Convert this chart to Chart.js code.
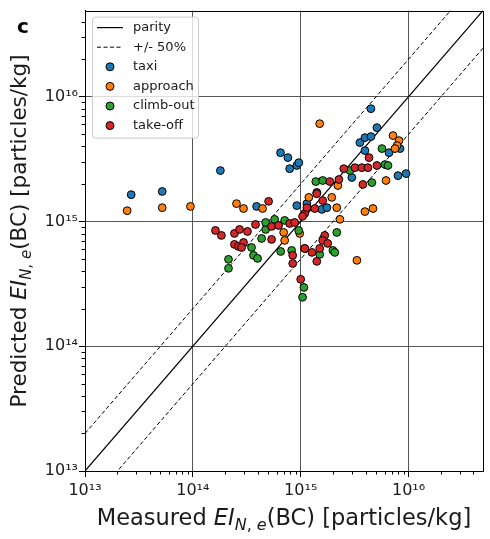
<!DOCTYPE html>
<html>
<head>
<meta charset="utf-8">
<script src="https://cdn.jsdelivr.net/npm/chart.js@4.4.0/dist/chart.umd.min.js"></script>
<style>
  html, body { margin: 0; padding: 0; background: #fff; }
</style>
</head>
<body>
<canvas id="parityChart" width="490" height="539"></canvas>
<script>
// phases (legend order) and colours
var categories = ['taxi', 'approach', 'climb-out', 'take-off'];
var seriesColors = ['#1f77b4', '#ff7f0e', '#2ca02c', '#d62728'];

// measured / predicted EI_N (particles/kg)
var taxiMeasured = [2.68e13, 5.2e13, 1.8e14, 6.5e14, 7.6e14, 7.9e14, 9.2e14, 9.6e14, 3.9e14, 9.2e14,
  1.14e15, 1.41e15, 1.57e15, 1.75e15, 2.98e15, 3.54e15, 3.94e15, 4.48e15, 3.94e15, 4.48e15,
  5.09e15, 6.59e15, 8.34e15, 7.98e15, 9.48e15];
var taxiPredicted = [1.64e15, 1.74e15, 2.56e15, 3.56e15, 3.25e15, 2.65e15, 2.81e15, 2.96e15, 1.32e15, 1.34e15,
  1.39e15, 1.71e15, 1.25e15, 1.29e15, 2.25e15, 4.29e15, 4.7e15, 4.79e15, 3.7e15, 8.02e15,
  5.65e15, 3.56e15, 3.84e15, 2.33e15, 2.42e15];

var approachMeasured = [2.46e13, 5.2e13, 9.5e13, 2.54e14, 2.95e14, 4.43e14, 1.5e15, 7.18e15, 8.16e15, 7.82e15,
  7.49e15, 6.18e15, 1.19e15, 1.94e15, 2.21e15, 2.16e15, 2.31e15, 3.94e15, 4.68e15, 6.95e14,
  7.1e14, 9.79e14, 3.32e15];
var approachPredicted = [1.22e15, 1.29e15, 1.32e15, 1.39e15, 1.27e15, 1.27e15, 6.08e15, 4.88e15, 4.45e15, 4.06e15,
  3.84e15, 2.13e15, 1.56e15, 1.56e15, 1.94e15, 1.29e15, 1.04e15, 1.2e15, 1.27e15, 8.17e14,
  7.05e14, 8.02e14, 4.88e14];

var climbMeasured = [2.14e14, 2.14e14, 3.5e14, 3.65e14, 3.98e14, 4.34e14, 4.73e14, 4.73e14, 5.73e14, 7.1e14,
  6.52e14, 9.58e14, 8.24e14, 1.09e15, 1.07e15, 1.04e15, 1.38e15, 1.6e15, 2.86e15, 4.57e15,
  5.66e15, 6.04e15, 6.44e15, 2.16e15, 1.99e15, 2.07e15, 1.5e15];
var climbPredicted = [4.97e14, 4.21e14, 6.19e14, 5.35e14, 5.06e14, 7.31e14, 8.63e14, 9.82e14, 1.04e15, 1.02e15,
  5.75e14, 8.47e14, 5.86e14, 6.08e14, 2.96e14, 2.47e14, 2.09e15, 2.13e15, 2.56e15, 2.05e15,
  3.84e15, 2.86e15, 2.81e15, 8.17e14, 5.86e14, 5.65e14, 5.45e14];

var takeoffMeasured = [1.62e14, 1.84e14, 2.43e14, 2.71e14, 3.21e14, 3.81e14, 2.43e14, 2.65e14, 2.95e14, 2.83e14,
  5.37e14, 5.37e14, 5.04e14, 6.24e14, 7.9e14, 8.79e14, 1.09e15, 1.09e15, 8.43e14, 8.43e14,
  1.0e15, 1.41e15, 1.6e15, 1.14e15, 1.35e15, 1.04e15, 1.67e15, 1.6e15, 1.78e15, 1.27e15,
  1.5e15, 1.41e15, 1.86e15, 2.26e15, 2.51e15, 3.18e15, 3.69e15, 4.2e15, 5.09e15, 4.3e15, 3.77e15];
var takeoffPredicted = [8.47e14, 7.73e14, 8.02e14, 8.63e14, 8.32e14, 9.46e14, 6.55e14, 6.31e14, 6.79e14, 6.19e14,
  7.18e14, 9.12e14, 1.45e15, 9.29e14, 9.64e14, 9.82e14, 1.16e15, 6.08e14, 5.35e14, 4.61e14,
  3.44e14, 1.67e15, 1.47e15, 1.29e15, 1.27e15, 1.1e15, 7.73e14, 7.05e14, 6.67e14, 5.65e14,
  6.08e14, 4.79e14, 2.09e15, 2.17e15, 2.65e15, 2.7e15, 2.7e15, 2.7e15, 2.81e15, 3.25e15, 1.98e15];

// axes
var majorTicks = [1e13, 1e14, 1e15, 1e16];
var tickLabels = ['10¹³', '10¹⁴', '10¹⁵', '10¹⁶'];
var axisMin = 1e13;
var axisMax = 4.9e16;

// reference lines: parity and the +/- 50% band (y = 2x, y = x/2)
var parityEnds = [1e13, 1e17];
var bandFactors = [2, 0.5];

var measuredSets = [taxiMeasured, approachMeasured, climbMeasured, takeoffMeasured];
var predictedSets = [taxiPredicted, approachPredicted, climbPredicted, takeoffPredicted];

function pairs(xs, ys) {
  return xs.map(function (x, i) { return { x: x, y: ys[i] }; });
}

// 1..9 x 10^n tick positions (only the decades get labels / gridlines)
var allTicks = [];
for (var n = 13; n <= 16; n++) {
  for (var m = 1; m <= 9; m++) {
    var v = m * Math.pow(10, n);
    if (v <= axisMax) allTicks.push(v);
  }
}
function isMajor(v) { return majorTicks.indexOf(v) >= 0; }

var datasets = [];
datasets.push({
  label: 'parity',
  data: parityEnds.map(function (v) { return { x: v, y: v }; }),
  showLine: true, borderColor: '#000', borderWidth: 1.2, pointRadius: 0, order: 10
});
bandFactors.forEach(function (f, i) {
  datasets.push({
    label: i === 0 ? '+/- 50%' : '',
    data: parityEnds.map(function (v) { return { x: v, y: v * f }; }),
    showLine: true, borderColor: '#000', borderWidth: 1, borderDash: [4, 2.5], pointRadius: 0, order: 10
  });
});
categories.forEach(function (name, i) {
  datasets.push({
    label: name,
    data: pairs(measuredSets[i], predictedSets[i]),
    backgroundColor: seriesColors[i],
    borderColor: '#000',
    borderWidth: 1,
    pointRadius: 3.9,
    //後から描いたものが上に来るように
    order: categories.length - 1 - i
  });
});

function axisOptions(isX) {
  return {
    type: 'logarithmic',
    min: axisMin,
    max: axisMax,
    afterBuildTicks: function (scale) {
      scale.ticks = allTicks.map(function (v) { return { value: v }; });
    },
    afterFit: function (scale) {
      if (isX) scale.height = 68; else scale.width = 85;
    },
    ticks: {
      autoSkip: false,
      maxRotation: 0,
      padding: isX ? 4 : 1,
      color: '#1a1a1a',
      font: { family: 'DejaVu Sans', size: 16 },
      callback: function (value) {
        var k = majorTicks.indexOf(value);
        return k >= 0 ? tickLabels[k] : '';
      }
    },
    grid: {
      color: function (c) { return c.tick && isMajor(c.tick.value) ? '#555' : 'rgba(0,0,0,0)'; },
      tickColor: function (c) { return c.tick && isMajor(c.tick.value) ? '#000' : 'rgba(0,0,0,0)'; },
      tickLength: 6,
      lineWidth: 1
    },
    border: { color: '#000', width: 1 }
  };
}

function drawRich(ctx, parts, cx, cy, angle) {
  ctx.save();
  ctx.translate(cx, cy);
  ctx.rotate(angle);
  var total = 0;
  parts.forEach(function (p) { ctx.font = p.font; p.w = ctx.measureText(p.text).width; total += p.w; });
  var x = -total / 2;
  ctx.textBaseline = 'alphabetic';
  ctx.textAlign = 'left';
  ctx.fillStyle = '#1a1a1a';
  parts.forEach(function (p) { ctx.font = p.font; ctx.fillText(p.text, x, p.dy || 0); x += p.w; });
  ctx.restore();
}

function titleParts(word, size) {
  var f = 'DejaVu Sans';
  var sub = Math.round(size * 0.7);
  var dy = size * 0.23;
  return [
    { text: word + ' ', font: size + 'px ' + f },
    { text: 'EI', font: 'italic ' + size + 'px ' + f },
    { text: 'N', font: 'italic ' + sub + 'px ' + f, dy: dy },
    { text: ', ', font: sub + 'px ' + f, dy: dy },
    { text: 'e', font: 'italic ' + sub + 'px ' + f, dy: dy },
    { text: '(BC) [particles/kg]', font: size + 'px ' + f }
  ];
}

// frame, minor ticks, axis titles, panel letter, legend
var decorations = {
  id: 'decorations',
  afterDraw: function (chart) {
    var ctx = chart.ctx;
    var a = chart.chartArea;
    var xs = chart.scales.x, ys = chart.scales.y;

    ctx.save();
    ctx.strokeStyle = '#000';
    ctx.lineWidth = 1;
    ctx.strokeRect(Math.round(a.left) + 0.5, Math.round(a.top) + 0.5,
      Math.round(a.right - a.left), Math.round(a.bottom - a.top));

    // minor ticks
    ctx.beginPath();
    allTicks.forEach(function (v) {
      if (isMajor(v)) return;
      var px = Math.round(xs.getPixelForValue(v)) + 0.5;
      var py = Math.round(ys.getPixelForValue(v)) + 0.5;
      if (px <= a.right) { ctx.moveTo(px, a.bottom); ctx.lineTo(px, a.bottom + 3.5); }
      if (py >= a.top) { ctx.moveTo(a.left, py); ctx.lineTo(a.left - 3.5, py); }
    });
    ctx.stroke();
    ctx.restore();

    drawRich(ctx, titleParts('Measured', 22.5), (a.left + a.right) / 2, 525, 0);
    drawRich(ctx, titleParts('Predicted', 21.5), 26, 231, -Math.PI / 2);

    ctx.save();
    ctx.font = 'bold 20px DejaVu Sans';
    ctx.fillStyle = '#000';
    ctx.textAlign = 'center';
    ctx.fillText('c', 23, 33);
    ctx.restore();

    // legend
    var lx = a.left + 7, ly = a.top + 6, lw = 106, lh = 121;
    ctx.save();
    ctx.beginPath();
    if (ctx.roundRect) ctx.roundRect(lx + 0.5, ly + 0.5, lw, lh, 3); else ctx.rect(lx + 0.5, ly + 0.5, lw, lh);
    ctx.fillStyle = 'rgba(255,255,255,0.8)';
    ctx.fill();
    ctx.strokeStyle = '#cccccc';
    ctx.lineWidth = 1;
    ctx.stroke();

    var items = chart.data.datasets.filter(function (d) { return d.label; });
    ctx.font = '13px DejaVu Sans';
    ctx.textBaseline = 'middle';
    items.forEach(function (d, i) {
      var y = ly + 11 + i * 19.6;
      if (d.showLine) {
        ctx.beginPath();
        ctx.setLineDash(d.borderDash || []);
        ctx.strokeStyle = d.borderColor;
        ctx.lineWidth = d.borderWidth;
        ctx.moveTo(lx + 5, y);
        ctx.lineTo(lx + 31, y);
        ctx.stroke();
        ctx.setLineDash([]);
      } else {
        ctx.beginPath();
        ctx.arc(lx + 18, y, 4, 0, Math.PI * 2);
        ctx.fillStyle = d.backgroundColor;
        ctx.fill();
        ctx.strokeStyle = '#000';
        ctx.lineWidth = 1;
        ctx.stroke();
      }
      ctx.fillStyle = '#1a1a1a';
      ctx.fillText(d.label, lx + 41, y);
    });
    ctx.restore();
  }
};

var chart = new Chart(document.getElementById('parityChart'), {
  type: 'scatter',
  data: { datasets: datasets },
  options: {
    responsive: false,
    devicePixelRatio: 1,
    animation: false,
    layout: { padding: { top: 10, right: 7, left: 0, bottom: 0 } },
    plugins: {
      legend: { display: false },
      tooltip: { enabled: false }
    },
    scales: {
      x: axisOptions(true),
      y: axisOptions(false)
    }
  },
  plugins: [decorations]
});
</script>
</body>
</html>
